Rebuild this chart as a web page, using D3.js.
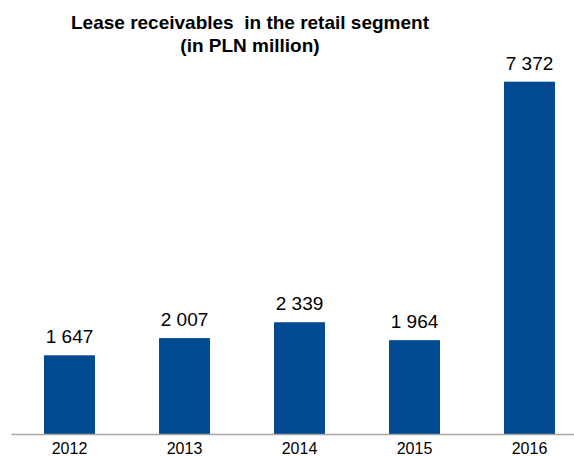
<!DOCTYPE html>
<html><head><meta charset="utf-8">
<script src="https://cdn.jsdelivr.net/npm/d3@7"></script>
<style>body{margin:0;background:#fff}svg{display:block}</style>
</head><body>
<svg id="c" width="574" height="456"></svg>
<script>
const categories = ["2012","2013","2014","2015","2016"];
const values = [1647, 2007, 2339, 1964, 7372];
const valueLabels = ["1 647","2 007","2 339","1 964","7 372"];
const titleLines = ["Lease receivables  in the retail segment", "(in PLN million)"];

const svg = d3.select("#c");
const font = "'Liberation Sans', Arial, sans-serif";
const x = d3.scaleBand().domain(categories).range([12, 587]).paddingInner(0.557).paddingOuter(0.2785);
const y = d3.scaleLinear().domain([0, 7372]).range([434, 81.7]);

svg.selectAll("text.title").data(titleLines).enter().append("text")
  .attr("x", 250).attr("y", (d,i)=>29 + i*23)
  .attr("text-anchor","middle").attr("font-family",font).attr("font-weight","bold")
  .attr("font-size","19px").attr("fill","#000").style("white-space","pre").text(d=>d);

svg.selectAll("rect.bar").data(values).enter().append("rect")
  .attr("x",(d,i)=>x(categories[i])).attr("width",x.bandwidth())
  .attr("y",d=>y(d)).attr("height",d=>y(0)-y(d)).attr("fill","#014991");

svg.selectAll("text.val").data(values).enter().append("text")
  .attr("x",(d,i)=>x(categories[i])+x.bandwidth()/2).attr("y",d=>y(d)-12)
  .attr("text-anchor","middle").attr("font-family",font).attr("font-size","19px")
  .attr("fill","#000").text((d,i)=>valueLabels[i]);

svg.append("line").attr("x1",11.5).attr("x2",587).attr("y1",434.5).attr("y2",434.5)
  .attr("stroke","#a6a6a6").attr("stroke-width",1.5);

const ax = d3.axisBottom(x).tickSize(0).tickPadding(9);
const g = svg.append("g").attr("transform","translate(0,434)").call(ax);
g.select(".domain").remove();
g.selectAll("text").attr("font-family",font).attr("font-size","16px").attr("fill","#000");
</script>
</body></html>
